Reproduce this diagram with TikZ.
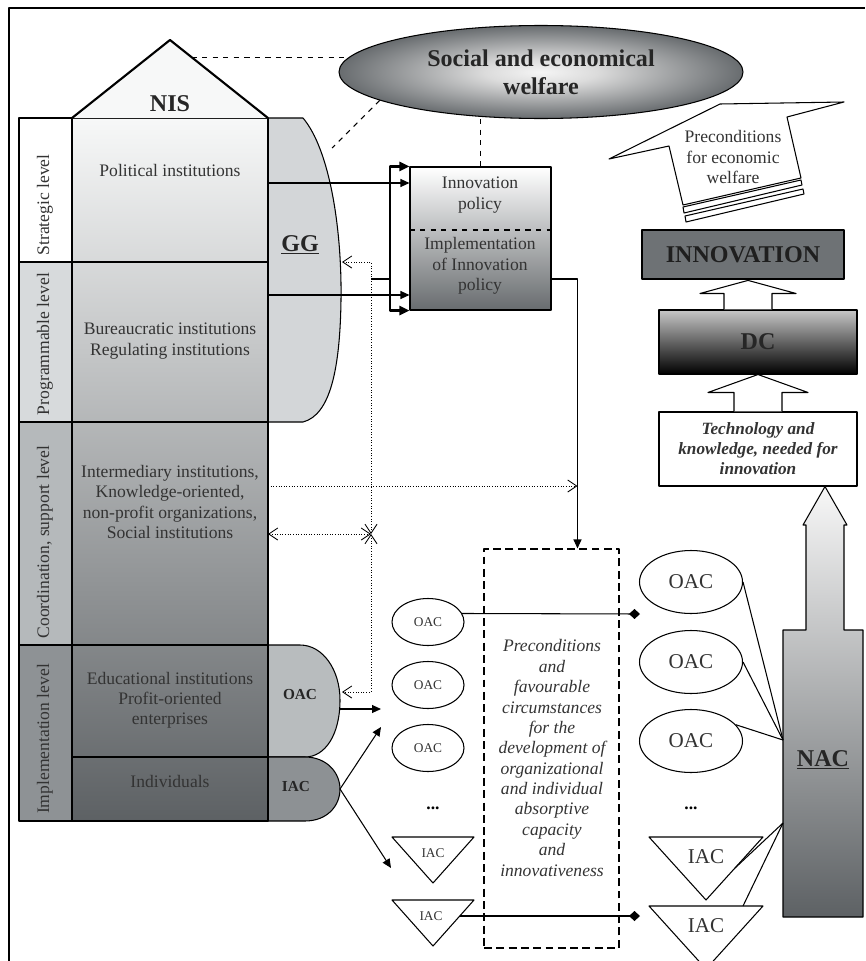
\documentclass[tikz,border=0pt]{standalone}
\usepackage{fontspec}
\setmainfont{Liberation Serif}
\usepackage{xcolor}
\usepackage{tikz}
\usetikzlibrary{arrows.meta, shapes.geometric, calc}
\definecolor{nisink}{HTML}{333333}
\definecolor{nislight}{HTML}{F7F8F8}
\definecolor{nismid}{HTML}{B3B6B8}
\definecolor{nisdark}{HTML}{5D6164}
\definecolor{nisprog}{HTML}{D7DADC}
\definecolor{niscoord}{HTML}{B5B9BB}
\definecolor{nisimpl}{HTML}{8E9295}
\definecolor{ggfill}{HTML}{D3D6D8}
\definecolor{oacfill}{HTML}{B8BCBE}
\definecolor{iacfill}{HTML}{8D9194}
\definecolor{innofill}{HTML}{6E7275}
\definecolor{weldark}{HTML}{686C6F}
\pgfdeclareradialshading{welfshade}{\pgfpoint{0bp}{0bp}}{color(0bp)=(white!96!black);
  color(7bp)=(white!86!black); color(25bp)=(weldark); color(50bp)=(weldark)}

\begin{document}
\begin{tikzpicture}[x=0.2mm, y=-0.2mm, line width=0.6pt, line join=round,
    lbl/.style={font=\fontsize{10}{11.5}\selectfont, text=nisink, align=center, inner sep=1pt},
    lvl/.style={lbl, rotate=90},
    bigbold/.style={font=\fontsize{13.7}{16}\selectfont\bfseries, text=black!85, align=center},
    sidebold/.style={font=\fontsize{8.7}{10}\selectfont\bfseries, text=black!85},
    flow/.style={-{Triangle[length=1.8mm, width=1.6mm]}},
    bracket/.style={line width=1.5pt},
    dotline/.style={densely dotted, line width=0.5pt, >={Straight Barb[length=1.8mm, width=2.4mm]}},
    link/.style={-{Diamond[length=2.2mm, width=2mm]}},
    hollow/.style={draw, fill=white},
    smalloac/.style={ellipse, draw, minimum width=14.4mm, minimum height=9.4mm, inner sep=0pt,
      font=\fontsize{7.6}{9}\selectfont, text=nisink},
    bigoac/.style={ellipse, draw, minimum width=20.6mm, minimum height=12.6mm, inner sep=0pt,
      font=\fontsize{12}{14}\selectfont, text=nisink},
    tri/.style={draw, fill=white}]
  \useasboundingbox (0,0) rectangle (865,961);
  \draw[line width=0.8pt] (9,961) -- (9,8) -- (865,8);

  % NIS house
  \fill[white] (19,118) rectangle (72,262);
  \fill[nisprog] (19,262) rectangle (72,422);
  \fill[niscoord] (19,422) rectangle (72,645);
  \fill[nisimpl] (19,645) rectangle (72,821);
  \shade[top color=nislight, middle color=nismid, bottom color=nisdark] (72,118) rectangle (268,821);
  \filldraw[fill=ggfill] (268,118) -- (303,118) .. controls (330,150) and (342,230) .. (341,300)
    .. controls (340,370) and (330,415) .. (303,422) -- (268,422);
  \filldraw[fill=oacfill] (268,645) -- (300,645) .. controls (323,645) and (340,670) .. (340,700)
    .. controls (340,735) and (325,757) .. (305,757) -- (268,757);
  \filldraw[fill=iacfill] (268,757) -- (305,757) .. controls (327,757) and (340,773) .. (340,789)
    .. controls (340,806) and (327,821) .. (305,821) -- (268,821);
  \draw (19,118) rectangle (72,821);
  \foreach \y in {262,422,645} \draw (19,\y) -- (268,\y);
  \draw (72,757) -- (268,757);
  \draw[line width=1pt] (72,118) rectangle (268,821);
  \fill[nislight] (72,118) -- (170,40) -- (268,118) -- cycle;
  \draw[line width=1.2pt] (72,118) -- (170,40) -- (268,118);

  \node[bigbold] (nis) at (170,104) {NIS};
  \node[bigbold] (gg) at (300,245) {\underline{GG}};
  \node[sidebold] (oacside) at (300,695) {OAC};
  \node[sidebold] (iacside) at (296,787) {IAC};

  \node[lvl] (strat) at (45,205) {Strategic level};
  \node[lvl] (prog) at (45,344) {Programmable level};
  \node[lvl] (coord) at (45,542) {Coordination, support level};
  \node[lvl] (impl) at (45,739) {Implementation level};

  \node[lbl] (polit) at (170,170) {Political institutions};
  \node[lbl] (bureau) at (170,341) {Bureaucratic institutions\\Regulating institutions};
  \node[lbl] (interm) at (170,502) {Intermediary institutions,\\Knowledge-oriented,\\non-profit organizations,\\Social institutions};
  \node[lbl] (educ) at (170,700) {Educational institutions\\Profit-oriented\\enterprises};
  \node[lbl] (indiv) at (170,781) {Individuals};

  % welfare and policy
  \node[ellipse, draw, shading=welfshade, minimum width=80.8mm,
    minimum height=18.6mm, bigbold] (welfare) at (541,72) {Social and economical\\welfare};
  \coordinate (roofpt) at ($(170,40)!0.22!(268,118)$);
  \coordinate (ggpt) at (332,148);
  \draw[dashed, shorten >=-2mm] (roofpt) -- (roofpt -| welfare.west);
  \draw[dashed] (welfare.190) -- (ggpt);

  \node[draw, rectangle, minimum width=28.2mm, minimum height=28.6mm, inner sep=0pt,
    top color=white, middle color=white!80!nisdark, bottom color=weldark] (policy) at (480.5,238.5) {};
  \draw[dashed] (policy.west |- 0,230) -- (policy.east |- 0,230);
  \draw[dashed] (welfare.south -| policy.north) -- (policy.north);
  \node[lbl] (innopol) at (480,195) {Innovation\\policy};
  \node[lbl] (implpol) at (480,266) {Implementation\\of Innovation\\policy};

  \coordinate (polA) at (268,183);
  \coordinate (polB) at (268,295);
  \draw[flow] (polA) -- (polA -| policy.west);
  \draw[flow] (polB) -- (polB -| policy.west);
  \coordinate (jtop) at (371,279);
  \coordinate (brk) at (390,279);
  \draw[bracket] (jtop) -- (brk);
  \draw[bracket, -{Triangle[length=2mm, width=1.8mm]}] (brk) |- (policy.north west);
  \draw[bracket, -{Triangle[length=2mm, width=1.8mm]}] (brk) |- (policy.south west);

  % preconditions box
  \node[draw, dash pattern=on 4.5pt off 2.5pt, minimum width=27mm, minimum height=79.8mm] (precbox) at (551.5,748.5) {};
  \node[lbl, font=\fontsize{10}{11.6}\selectfont\itshape] (prectext) at (552,758)
    {Preconditions\\and\\favourable\\circumstances\\for the\\development of\\organizational\\and individual\\absorptive\\capacity\\and\\innovativeness};
  \coordinate (drop) at ($(precbox.north)+(26,0)$);
  \draw[flow] (policy.east |- jtop) -| (drop);

  % dotted feedback
  \coordinate (intR) at (268,486);
  \coordinate (socR) at (268,534);
  \coordinate (junc) at (371,534);
  \coordinate (ggR) at (342,262);
  \coordinate (oacR) at (342,692);
  \draw[dotline, ->] (intR) -- (intR -| drop);
  \draw[dotline, <->] (socR) -- (junc);
  \draw[dotline, <->] (junc) |- (ggR);
  \draw[dotline, <->] (junc) |- (oacR);

  % organizational and individual capacities
  \foreach \i/\y in {1/622,2/685,3/748} \node[smalloac] (loac\i) at (428,\y) {OAC};
  \foreach \i/\y in {1/582,2/662,3/741} \node[bigoac] (roac\i) at (691,\y) {OAC};
  \foreach \t in {837,900} \draw[tri] (392,\t) -- (474,\t) -- (433,{\t+46}) -- cycle;
  \foreach \t in {837,906} \draw[tri] (649,\t) -- (763,\t) -- (706,{\t+63}) -- cycle;
  \node[smalloac, draw=none] (liac1) at (433,853) {IAC};
  \node[smalloac, draw=none] (liac2) at (431,916) {IAC};
  \node[bigoac, draw=none] (riac1) at (706,857) {IAC};
  \node[bigoac, draw=none] (riac2) at (706,926) {IAC};
  \node[font=\fontsize{10}{12}\selectfont\bfseries] (ldots) at (433,808) {...};
  \node[font=\fontsize{10}{12}\selectfont\bfseries] (rdots) at (691,808) {...};

  \coordinate (oacE) at (340,709);
  \coordinate (iacE) at (340,789);
  \coordinate (oacT) at (381,709);
  \coordinate (iacU) at (381,727);
  \coordinate (iacD) at (391,868);
  \draw[flow] (oacE) -- (oacT);
  \draw[flow] (iacE) -- (iacU);
  \draw[flow] (iacE) -- (iacD);

  \coordinate (dmA) at (640,614);
  \coordinate (liac2r) at (460,916);
  \coordinate (dmB) at (640,916);
  \draw[link] (loac1.14) -- (dmA);
  \draw[link] (liac2r) -- (dmB);

  % innovation chain
  \node[draw, rectangle, minimum width=39.6mm, minimum height=14.8mm, fill=white, align=center,
    font=\fontsize{9.8}{11.4}\selectfont\bfseries\itshape, text=nisink] (tech) at (758,449)
    {Technology and\\knowledge, needed for\\innovation};
  \node[draw, rectangle, minimum width=39.6mm, minimum height=12.8mm, top color=white!78!black,
    bottom color=black, bigbold] (dc) at (758,342) {DC};
  \node[draw, rectangle, line width=1.6pt, minimum width=40.4mm, minimum height=9.8mm, fill=innofill,
    bigbold, text=black!88] (innov) at (743,254.5) {INNOVATION};
  \draw[hollow] ($(tech.north)+(-24,0)$) -- ++(0,-19) -- ++(-26,0) -- (dc.south)
    -- ($(tech.north)+(50,-19)$) -- ++(-26,0) -- ($(tech.north)+(24,0)$);
  \coordinate (up2) at ($(dc.north)+(-10,0)$);
  \draw[hollow] ($(up2)+(-24,0)$) -- ++(0,-16) -- ++(-24,0) -- (up2 |- innov.south)
    -- ($(up2)+(48,-16)$) -- ++(-24,0) -- ($(up2)+(24,0)$);

  % preconditions for welfare
  \draw[fill=white] (609,159) -- (720,104) -- (844,102) -- (787,117) -- (801,178) -- (683,205) -- (669,146) -- cycle;
  \draw[fill=white] (683,207) -- (801,180) -- (802,185) -- (684,213) -- cycle;
  \draw[fill=white] (685,216) -- (803,189) -- (804,194) -- (686,222) -- cycle;
  \node[lbl] (precond) at (733,157) {Preconditions\\for economic\\welfare};

  % NAC
  \coordinate (nactip) at (tech.south -| 825,0);
  \shadedraw[top color=white!97!black, middle color=nismid, bottom color=nisdark]
    (783,917) -- (783,630) -- (806,630) -- (806,525) -- (803,525) -- (nactip) -- (847,525)
    -- (844,525) -- (844,630) -- (863,630) -- (863,917) -- cycle;
  \node[bigbold] (nac) at (823,760) {\underline{NAC}};
  \coordinate (nacA) at (783,740);
  \coordinate (nacB) at (783,823);
  \coordinate (riac1r) at (735,868);
  \coordinate (riac2t) at (743,906);
  \draw (roac1.east) -- (nacA);
  \draw (roac2.east) -- (nacA);
  \draw (roac3.20) -- (nacA);
  \draw (riac1r) -- (nacB);
  \draw (riac2t) -- (nacB);
\end{tikzpicture}
\end{document}
